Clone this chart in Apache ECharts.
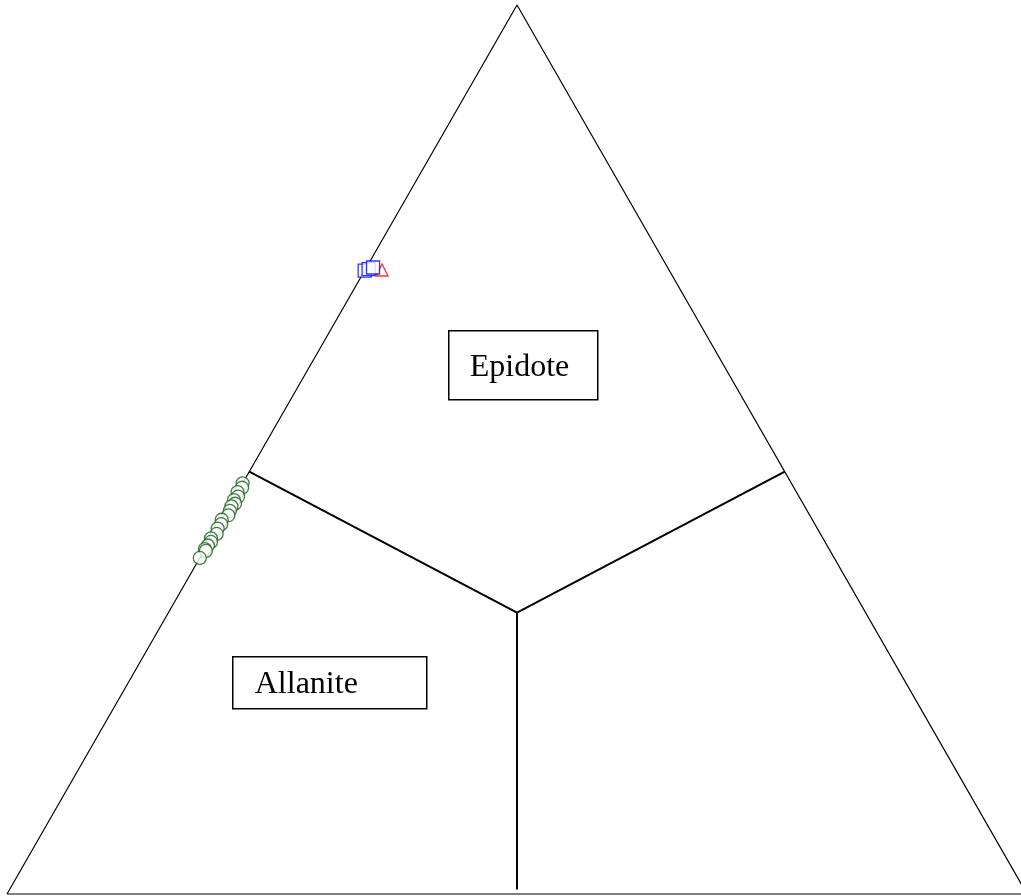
<!DOCTYPE html>
<html>
<head>
<meta charset="utf-8">
<title>Allanite – Epidote ternary diagram</title>
<script src="https://cdn.jsdelivr.net/npm/echarts@6/dist/echarts.min.js"></script>
<style>
  html, body { margin: 0; padding: 0; background: #ffffff; }
  #chart { width: 1021px; height: 896px; }
</style>
</head>
<body>
<div id="chart"></div>
<script>
// Ternary compositions as [top, left, right] fractions (each row sums to 1).
const triangleCorners = [[0, 1, 0], [1, 0, 0], [0, 0, 1], [0, 1, 0]];

// Field boundaries: left edge -> centre junction, right edge -> centre, centre -> base.
const boundaryLeft = [[0.475, 0.525, 0], [0.3164, 0.3418, 0.3418]];
const boundaryRight = [[0.475, 0, 0.525], [0.3164, 0.3418, 0.3418]];
const boundaryBase = [[0.3164, 0.3418, 0.3418], [0.005, 0.4975, 0.4975]];

// Allanite-group analyses (top fraction, right fraction); left = remainder.
const allaniteTop = [0.462, 0.457, 0.452, 0.447, 0.443, 0.439, 0.436, 0.431, 0.426, 0.421,
                     0.416, 0.411, 0.405, 0.400, 0.396, 0.392, 0.388, 0.386, 0.378];
const allaniteRight = [0.000, 0.002, 0.000, 0.003, 0.001, 0.004, 0.002, 0.003, 0.004, 0.000,
                       0.002, 0.001, 0.003, 0.000, 0.002, 0.001, 0.000, 0.002, 0.000];

// Epidote analyses plotted as squares.
const epidoteTop = [0.7013, 0.7030, 0.7047];
const epidoteRight = [0.000, 0.003, 0.0065];

// Single epidote analysis plotted as a triangle.
const epidote2Top = [0.7019];
const epidote2Right = [0.0167];

// Field labels.
const fieldNames = ['Epidote', 'Allanite'];

// Ternary -> cartesian in a unit triangle: left corner (0,0), right corner (1,0), apex (0.5,1).
function toXY(top, right) {
  return [right + top / 2, top];
}
function rowsToXY(rows) {
  return rows.map(r => toXY(r[0], r[2]));
}
function pairsToXY(tops, rights) {
  return tops.map((t, i) => toXY(t, rights[i]));
}

const chart = echarts.init(document.getElementById('chart'), null, { renderer: 'canvas' });

const thinLine = { color: '#000000', width: 1.2 };
const boldLine = { color: '#000000', width: 2 };

function lineSeries(rows, style) {
  return {
    type: 'line',
    data: rowsToXY(rows),
    symbol: 'none',
    lineStyle: style,
    silent: true,
    animation: false,
    clip: false,
    z: 1
  };
}

const fontFamily = '"Liberation Serif", "Times New Roman", serif';

chart.setOption({
  backgroundColor: '#ffffff',
  animation: false,
  grid: { left: 7, top: 5, right: 0, bottom: 2, containLabel: false },
  // the visible x range stops a little short of the right corner, which lies past the canvas edge
  xAxis: { type: 'value', min: 0, max: 0.9941, show: false },
  yAxis: { type: 'value', min: 0, max: 1, show: false },
  series: [
    lineSeries(triangleCorners, thinLine),
    lineSeries(boundaryLeft, boldLine),
    lineSeries(boundaryRight, boldLine),
    lineSeries(boundaryBase, boldLine),
    {
      type: 'scatter',
      data: pairsToXY(allaniteTop, allaniteRight),
      symbol: 'circle',
      symbolSize: 13,
      itemStyle: { color: '#ffffff', borderColor: '#175c17', borderWidth: 1.3 },
      z: 3
    },
    {
      type: 'scatter',
      data: pairsToXY(epidote2Top, epidote2Right),
      symbol: 'triangle',
      symbolSize: 12,
      itemStyle: { color: '#ffffff', borderColor: '#ff0000', borderWidth: 1.3 },
      z: 3
    },
    {
      type: 'scatter',
      data: pairsToXY(epidoteTop, epidoteRight),
      symbol: 'rect',
      symbolSize: 13,
      itemStyle: { color: '#ffffff', borderColor: '#0000ff', borderWidth: 1.3 },
      z: 4
    }
  ],
  graphic: [
    {
      type: 'group',
      left: 448, top: 330,
      children: [
        { type: 'rect', shape: { x: 0, y: 0, width: 149, height: 69 },
          style: { fill: '#ffffff', stroke: '#000000', lineWidth: 1.5 } },
        { type: 'text', x: 21, y: 37,
          style: { text: fieldNames[0], fill: '#000000', font: '32px ' + fontFamily,
                   textAlign: 'left', textVerticalAlign: 'middle' } }
      ]
    },
    {
      type: 'group',
      left: 232, top: 656,
      children: [
        { type: 'rect', shape: { x: 0, y: 0, width: 194, height: 52 },
          style: { fill: '#ffffff', stroke: '#000000', lineWidth: 1.5 } },
        { type: 'text', x: 22, y: 28,
          style: { text: fieldNames[1], fill: '#000000', font: '32px ' + fontFamily,
                   textAlign: 'left', textVerticalAlign: 'middle' } }
      ]
    }
  ]
});
</script>
</body>
</html>
